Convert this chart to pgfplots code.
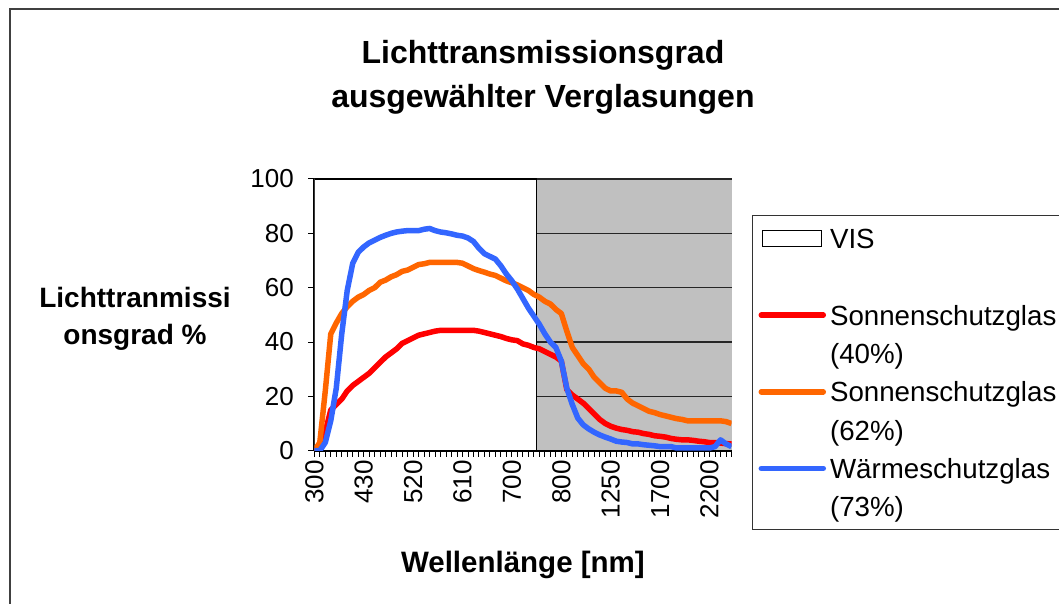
\documentclass[border=0pt]{standalone}
\usepackage{pgfplots}
\pgfplotsset{compat=1.18}
\usepackage{pgfplotstable}
\usepackage{fontspec}
\setmainfont{Liberation Sans}
\definecolor{cred}{RGB}{255,0,0}
\definecolor{corange}{RGB}{255,102,0}
\definecolor{cblue}{RGB}{51,102,255}
\definecolor{plotgray}{RGB}{192,192,192}
\pgfplotstableread{
i red orange blue
0 0 0 0
1 0 3 0
2 7 22 3
3 15 43 11
4 17 47 23
5 19 50.5 43
6 22 53 59
7 24 55 69
8 25.5 56.5 73
9 27 57.5 75
10 28.5 59 76.5
11 30.5 60 77.5
12 32.5 62 78.5
13 34.5 62.8 79.3
14 36 64 80
15 37.5 64.8 80.5
16 39.5 66 80.8
17 40.5 66.5 81
18 41.5 67.5 81
19 42.5 68.5 81
20 43 68.8 81.5
21 43.5 69.3 81.8
22 44 69.3 81
23 44.3 69.3 80.5
24 44.3 69.3 80.2
25 44.3 69.3 79.8
26 44.3 69.3 79.3
27 44.3 69 79
28 44.3 68 78.3
29 44.3 67 77
30 44 66.3 74.5
31 43.5 65.7 72.5
32 43 65 71.5
33 42.5 64.5 70.5
34 42 63.5 68
35 41.3 62.5 65
36 40.8 61.8 62.5
37 40.5 61 59.5
38 39.3 60 56
39 38.8 59 52.5
40 38 57.5 49.5
41 37.5 56.5 46.5
42 36.5 55 43
43 35.5 54 40
44 34.5 52 38
45 33 50.5 33
46 22.5 44 23
47 20.5 38 17
48 19 35 12
49 17.5 32 9.5
50 15.5 30 8
51 13.5 27 6.8
52 11.5 25 5.8
53 10 23 5
54 9 22 4.3
55 8.3 22 3.5
56 7.8 21.5 3.2
57 7.5 19 3
58 7 17.5 2.5
59 6.8 16.5 2.5
60 6.3 15.5 2.2
61 6 14.5 2
62 5.5 14 1.8
63 5.3 13.3 1.5
64 5 12.8 1.5
65 4.5 12.3 1.5
66 4.2 11.8 1
67 4 11.5 1
68 4 11 1
69 3.8 11 1
70 3.5 11 1
71 3.3 11 1
72 3 11 1
73 3 11 1.5
74 2.8 11 4
75 2.6 10.7 2.5
76 2.5 10 1.5
}\datatable
\begin{document}
\begin{tikzpicture}
\begin{axis}[
  set layers,
  at={(314.3pt,152.3pt)}, anchor=south west,
  scale only axis, width=417.2pt, height=271.7pt,
  xmin=0, xmax=76, ymin=0, ymax=100,
  axis background/.style={fill=plotgray},
  axis lines*=left,
  axis line style={black, line width=1.8pt},
  tick align=outside,
  major tick length=6pt, minor tick length=6pt,
  tick style={black, line width=1pt},
  ytick={0,20,...,100},
  ymajorgrids,
  grid style={black!85, line width=1.2pt},
  xtick={0,9,...,72},
  xticklabels={300,430,520,610,700,800,1250,1700,2200},
  minor xtick={0,1,...,76},
  xminorgrids=false,
  /pgf/number format/assume math mode=true,
  tick label style={font=\fontsize{26}{30}\selectfont},
  x tick label style={rotate=90, anchor=east},
  y tick label style={xshift=-11pt},
  title={Lichttransmissionsgrad\\ausgewählter Verglasungen},
  title style={font=\bfseries\fontsize{32}{44}\selectfont, align=center, at={(axis description cs:0.548,1.354)}, anchor=center},
  xlabel={Wellenlänge [nm]},
  xlabel style={font=\bfseries\fontsize{29.5}{34}\selectfont, at={(axis description cs:0.5,-0.4207)}, anchor=center},
  ylabel={Lichttranmissi\\onsgrad \%},
  ylabel style={font=\bfseries\fontsize{28}{37}\selectfont, rotate=-90, align=center, at={(axis description cs:-0.4298,0.484)}, anchor=center},
  legend cell align=left,
  legend style={at={(axis description cs:1.049,0.8675)}, anchor=north west,
    draw=black!80, line width=1.2pt, fill=white,
    font=\fontsize{27.7}{32}\selectfont,
    inner xsep=6pt, inner ysep=10pt,
    nodes={inner sep=0pt, text height=23pt, text depth=3pt},
    row sep=12.3pt,
    /tikz/every odd column/.append style={column sep=4pt}},
  legend image code/.code={\draw[#1, line cap=round] (0pt,0pt) -- (62pt,0pt);},
]
\addlegendimage{legend image code/.code={\draw[fill=white, draw=black, line width=1.2pt] (1pt,-8pt) rectangle (60pt,8pt);}}
\addlegendentry{VIS}
\addlegendimage{empty legend}
\addlegendentry{}
\addlegendimage{cred, line width=5.5pt}
\addlegendentry{Sonnenschutzglas}
\addlegendimage{empty legend}
\addlegendentry{(40\%)}
\addlegendimage{corange, line width=5.5pt}
\addlegendentry{Sonnenschutzglas}
\addlegendimage{empty legend}
\addlegendentry{(62\%)}
\addlegendimage{cblue, line width=5.5pt}
\addlegendentry{Wärmeschutzglas}
\addlegendimage{empty legend}
\addlegendentry{(73\%)}

\addplot[forget plot, fill=white, draw=black, line width=1.6pt] coordinates {(0,100) (40.5,100) (40.5,0)} \closedcycle;
\addplot[forget plot, cred, line width=5.5pt, line join=round] table[x=i, y=red] {\datatable};
\addplot[forget plot, corange, line width=5.5pt, line join=round] table[x=i, y=orange] {\datatable};
\addplot[forget plot, cblue, line width=5.5pt, line join=round] table[x=i, y=blue] {\datatable};
\end{axis}
\draw[line width=1.4pt, black!75] (10pt,-20pt) |- (1080pt,594pt);
\pgfresetboundingbox
\path (0pt,0pt) rectangle (1059pt,603pt);
\end{tikzpicture}
\end{document}
